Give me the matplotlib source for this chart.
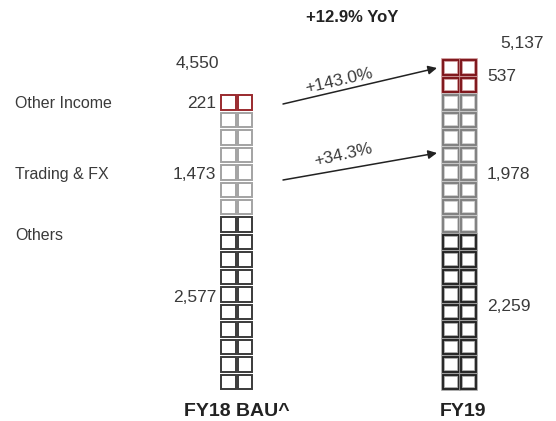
import matplotlib.pyplot as plt
from matplotlib.patches import Rectangle

# data
categories = ['Other Income', 'Trading & FX', 'Others']
periods = ['FY18 BAU^', 'FY19']
totals = ['4,550', '5,137']
fy18_values = ['221', '1,473', '2,577']
fy19_values = ['537', '1,978', '2,259']
fy18_rows = [1, 6, 10]   # rows of two squares per segment
fy19_rows = [2, 8, 9]
growth = ['+143.0%', '+34.3%']
headline = '+12.9% YoY'

plt.rcParams['font.family'] = ['Liberation Sans', 'DejaVu Sans']
TEXT = '#3a3a3a'
VAL_FS = 12.5

fig = plt.figure(figsize=(5.56, 4.21), dpi=100)
ax = fig.add_axes([0, 0, 1, 1])
ax.set_xlim(0, 556)
ax.set_ylim(421, 0)
ax.axis('off')

pitch = 17.45
bottom = 391


def draw_column(x0, rows, sq_w, colors, thick):
  n = sum(rows)
  top = bottom - n * pitch
  y = top
  seg_bounds = []
  for nr, (edge, halo) in zip(rows, colors):
    seg_top = y
    for r in range(nr):
      for c in range(2):
        xx = x0 + c * (sq_w + 2)
        if thick:
          ax.add_patch(Rectangle((xx, y + 1), sq_w, pitch - 3, fill=False,
                                 edgecolor=halo, lw=2.6))
          ax.add_patch(Rectangle((xx, y + 1), sq_w, pitch - 3, fill=False,
                                 edgecolor=edge, lw=1.3))
        else:
          ax.add_patch(Rectangle((xx, y + 1), sq_w, pitch - 3, fill=False,
                                 edgecolor=edge, lw=1.4))
      y += pitch
    seg_bounds.append((seg_top, y))
  return top, seg_bounds


left_colors = [('#9a2a2e', None), ('#a3a3a3', None), ('#3a3a3a', None)]
right_colors = [('#7a0e14', '#c78a8c'), ('#7c7c7c', '#c4c4c4'), ('#1e1e1e', '#9a9a9a')]

ltop, lseg = draw_column(221, fy18_rows, 14.5, left_colors, False)
rtop, rseg = draw_column(443, fy19_rows, 15.5, right_colors, True)

# value labels
label_shift = [0, 10, -6]
for (a, b), v, s in zip(lseg, fy18_values, label_shift):
  ax.text(216, (a + b) / 2 + s, v, ha='right', va='center', fontsize=VAL_FS, color=TEXT)
for (a, b), v, s in zip(rseg, fy19_values, label_shift):
  ax.text(487, (a + b) / 2 + s, v, ha='left', va='center', fontsize=VAL_FS, color=TEXT)

# category names
cat_y = [104, 174, 236]
for name, yy in zip(categories, cat_y):
  ax.text(15, yy, name, ha='left', va='center', fontsize=11.5, color=TEXT)

# totals
ax.text(197, ltop - 31, totals[0], ha='center', va='center', fontsize=VAL_FS, color=TEXT)
ax.text(522, rtop - 16, totals[1], ha='center', va='center', fontsize=VAL_FS, color=TEXT)

# period labels
ax.text(237, 411, periods[0], ha='center', va='center', fontsize=14,
        fontweight='bold', color='#222222')
ax.text(463, 411, periods[1], ha='center', va='center', fontsize=14,
        fontweight='bold', color='#222222')

ax.text(352, 18, headline, ha='center', va='center', fontsize=12,
        fontweight='bold', color='#222222')

# growth arrows
arrows = [((283, 104), (437, 68), (339, 81)), ((283, 180), (437, 153), (343, 155))]
for (start, end, tpos), g in zip(arrows, growth):
  ax.annotate('', xy=end, xytext=start,
              arrowprops=dict(arrowstyle='-|>', color='#222222', lw=1.1,
                              mutation_scale=13, shrinkA=0, shrinkB=0))
  ax.text(tpos[0], tpos[1], g, ha='center', va='center', rotation=13,
          fontsize=VAL_FS, color=TEXT, rotation_mode='anchor')

fig.savefig('out.png', dpi=100)
